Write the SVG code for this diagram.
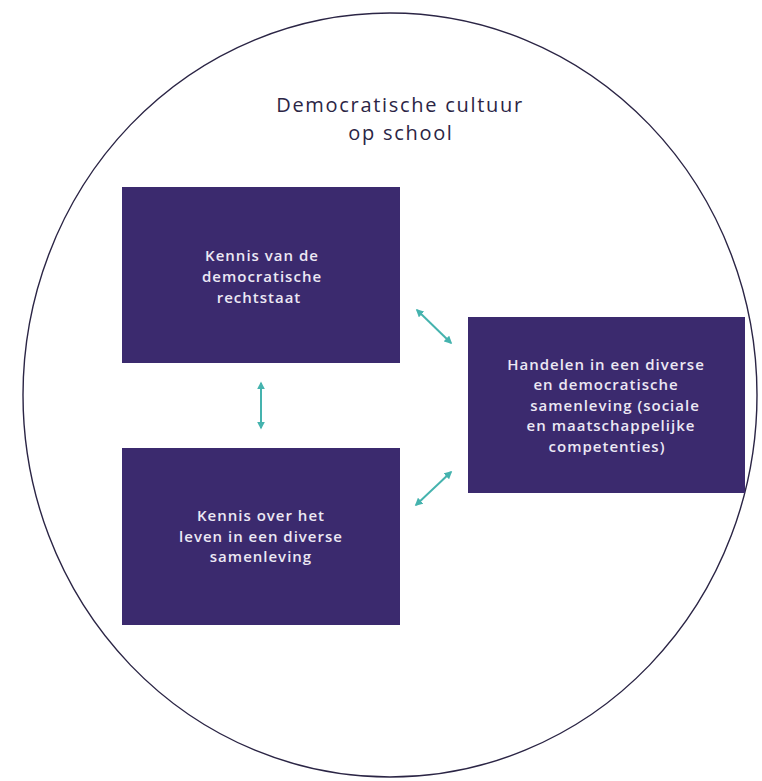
<svg xmlns="http://www.w3.org/2000/svg" width="762" height="781" viewBox="0 0 762 781">
  <defs>
    <style>
      .box { fill: #3b2a6e; }
      .label { font-family: "Open Sans", "DejaVu Sans", sans-serif; font-size: 15px; font-weight: 600; letter-spacing: 1px; fill: #ece8f4; text-anchor: middle; }
      .title { font-family: "Open Sans", "DejaVu Sans", sans-serif; font-size: 20px; font-weight: 500; letter-spacing: 1.7px; fill: #2b2545; text-anchor: middle; }
      .conn { stroke: #45b3ae; stroke-width: 2; fill: none; marker-start: url(#ah); marker-end: url(#ah); }
    </style>
    <marker id="ah" viewBox="0 0 10 10" refX="8" refY="5" markerWidth="4" markerHeight="4" orient="auto-start-reverse" markerUnits="strokeWidth">
      <path d="M0,0 L10,5 L0,10 z" fill="#45b3ae"/>
    </marker>
  </defs>
  <rect width="762" height="781" fill="#ffffff"/>
  <g id="frame">
    <ellipse cx="390" cy="395" rx="367" ry="382" fill="none" stroke="#2b2545" stroke-width="1.4"/>
    <text class="title" x="400" y="112">Democratische cultuur</text>
    <text class="title" x="401" y="140">op school</text>
  </g>
  <g id="node-kennis-rechtstaat">
    <rect class="box" x="122" y="187" width="278" height="176"/>
    <text class="label" x="262" y="261">Kennis van de</text>
    <text class="label" x="262" y="282">democratische</text>
    <text class="label" x="259" y="303">rechtstaat</text>
  </g>
  <g id="node-kennis-samenleving">
    <rect class="box" x="122" y="448" width="278" height="177"/>
    <text class="label" x="261" y="521">Kennis over het</text>
    <text class="label" x="261" y="541.5">leven in een diverse</text>
    <text class="label" x="261" y="562">samenleving</text>
  </g>
  <g id="node-handelen">
    <rect class="box" x="468" y="317" width="277" height="176"/>
    <text class="label" x="606" y="369.5">Handelen in een diverse</text>
    <text class="label" x="606" y="390">en democratische</text>
    <text class="label" x="615" y="410.5">samenleving (sociale</text>
    <text class="label" x="611" y="431">en maatschappelijke</text>
    <text class="label" x="607" y="451.5">competenties)</text>
  </g>
  <g id="connectors">
    <line class="conn" x1="261" y1="383" x2="261" y2="428"/>
    <line class="conn" x1="417" y1="310" x2="451" y2="343"/>
    <line class="conn" x1="416" y1="505" x2="451" y2="472"/>
  </g>
</svg>
